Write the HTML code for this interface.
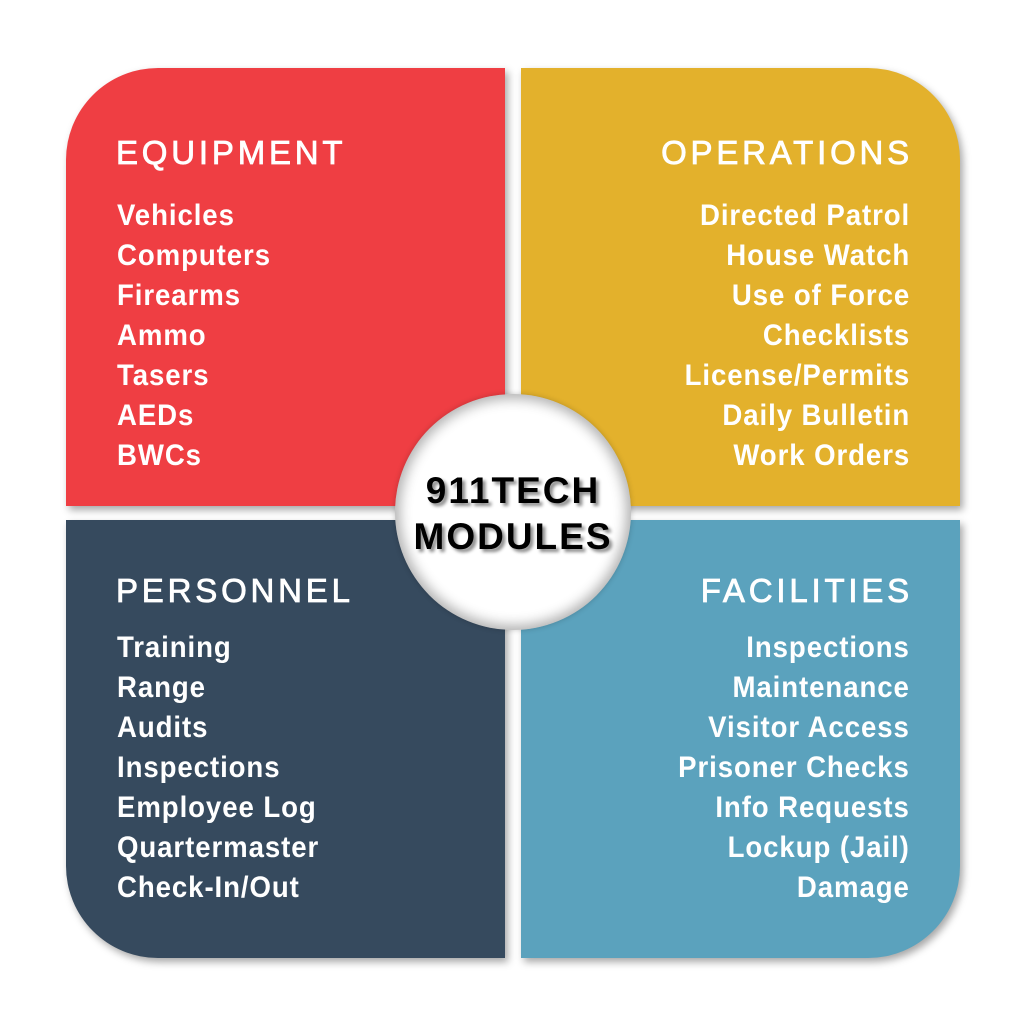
<!DOCTYPE html>
<html><head><style>
body{margin:0;width:1024px;height:1024px;background:#fff;position:relative;overflow:hidden;font-family:"Liberation Sans",sans-serif}
.q{position:absolute;width:439px;height:438px;box-shadow:3px 4px 8px rgba(0,0,0,.35)}
.t{position:absolute;color:#fff;font-weight:bold}
.h{font-size:33px;letter-spacing:3.8px;font-weight:normal;-webkit-text-stroke:0.8px #fff}
.it{font-size:30px;line-height:40px;letter-spacing:1px;transform:scaleX(0.92);transform-origin:left top}
.r{text-align:right}
.it.r{transform-origin:right top}
</style></head><body>
<div class="q" style="left:66px;top:68px;background:#ef3e43;border-top-left-radius:92px"></div>
<div class="q" style="left:521px;top:68px;background:#e3b12c;border-top-right-radius:92px"></div>
<div class="q" style="left:66px;top:520px;background:#364a5e;border-bottom-left-radius:92px"></div>
<div class="q" style="left:521px;top:520px;background:#5ba2bd;border-bottom-right-radius:92px"></div>

<div class="t h" style="left:116px;top:134px">EQUIPMENT</div>
<div class="t it" style="left:117px;top:196px">Vehicles<br>Computers<br>Firearms<br>Ammo<br>Tasers<br>AEDs<br>BWCs</div>

<div class="t h r" style="right:111px;top:134px">OPERATIONS</div>
<div class="t it r" style="right:114px;top:196px">Directed Patrol<br>House Watch<br>Use of Force<br>Checklists<br>License/Permits<br>Daily Bulletin<br>Work Orders</div>

<div class="t h" style="left:116px;top:572px">PERSONNEL</div>
<div class="t it" style="left:117px;top:628px">Training<br>Range<br>Audits<br>Inspections<br>Employee Log<br>Quartermaster<br>Check-In/Out</div>

<div class="t h r" style="right:111px;top:572px">FACILITIES</div>
<div class="t it r" style="right:114px;top:628px">Inspections<br>Maintenance<br>Visitor Access<br>Prisoner Checks<br>Info Requests<br>Lockup (Jail)<br>Damage</div>

<div style="position:absolute;left:395px;top:394px;width:236px;height:236px;border-radius:50%;background:#fff;box-shadow:0 0 12px 5px rgba(0,0,0,.3) inset, 0 0 6px rgba(0,0,0,.2)"></div>
<div style="position:absolute;left:380px;top:468px;width:266px;text-align:center;font-weight:bold;font-size:37px;line-height:46px;letter-spacing:2px;color:#000;text-shadow:3px 3px 3px rgba(0,0,0,.45)">911TECH<br>MODULES</div>
</body></html>
